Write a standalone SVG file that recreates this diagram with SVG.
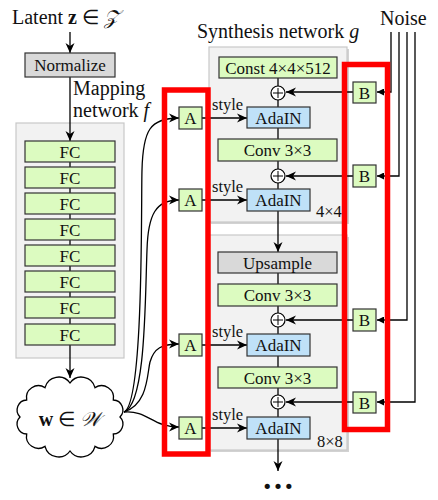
<svg xmlns="http://www.w3.org/2000/svg" width="438" height="500" viewBox="0 0 438 500" font-family="'Liberation Serif', 'Times New Roman', Times, serif">
<defs>
<style>
text, tspan{font-family:'Liberation Serif','Times New Roman',Times,serif}
text{fill:#111}
.lbl{font-size:17px;text-anchor:middle}
.big{font-size:20px}
.sm{font-size:16.5px}
.green{fill:#dcfbc0;stroke:#333;stroke-width:1.2}
.gray{fill:#d9d9d9;stroke:#333;stroke-width:1.2}
.blue{fill:#bfe1f8;stroke:#333;stroke-width:1.2}
.panel{fill:#f2f2f2;stroke:#c8c8c8;stroke-width:1.2}
.shadow{fill:#d2d2d2}
.ln{fill:none;stroke:#000;stroke-width:1.3}
.red{fill:none;stroke:#ff0000;stroke-width:5.5}
</style>
<marker id="ar" viewBox="0 0 10 10" refX="10" refY="5" markerWidth="11" markerHeight="10" markerUnits="userSpaceOnUse" orient="auto">
<path d="M0,0.5 L10,5 L0,9.5 L3,5 z" fill="#000"/>
</marker>
<marker id="tri" viewBox="0 0 10 10" refX="10" refY="5" markerWidth="7" markerHeight="7" markerUnits="userSpaceOnUse" orient="auto">
<path d="M0,0 L10,5 L0,10 z" fill="#000"/>
</marker>
</defs>
<rect width="438" height="500" fill="#fff"/>

<!-- panels -->
<rect class="panel" x="16" y="123" width="108" height="235"/>
<rect class="shadow" x="211" y="49" width="138" height="175"/>
<rect class="panel" x="209" y="47" width="138" height="175"/>
<rect class="shadow" x="211" y="237" width="138" height="215"/>
<rect class="panel" x="209" y="235" width="138" height="215"/>

<!-- titles -->
<text class="big" x="12" y="24">Latent <tspan font-weight="bold">z</tspan> ∈ <tspan font-style="italic">𝒵</tspan></text>
<text class="big" x="73" y="95">Mapping</text>
<text class="big" x="73" y="117">network <tspan font-style="italic">f</tspan></text>
<text class="big" x="197" y="38">Synthesis network <tspan font-style="italic">g</tspan></text>
<text class="big" x="380" y="25">Noise</text>
<text class="sm" x="316" y="217">4×4</text>
<text class="sm" x="317" y="447">8×8</text>
<text x="278" y="489" font-size="32" font-weight="bold" text-anchor="middle">…</text>

<!-- connectors -->
<g id="connectors">
<line class="ln" x1="70" y1="32" x2="70" y2="53" marker-end="url(#ar)"/>
<line class="ln" x1="70" y1="77" x2="70" y2="141" marker-end="url(#ar)"/>
<line class="ln" x1="70" y1="162" x2="70" y2="324"/>
<line class="ln" x1="70" y1="345" x2="70" y2="378" marker-end="url(#ar)"/>
<path class="ln" d="M124,412 C144,404 141,200 142,170 C143,130 150,118 179,118" marker-end="url(#ar)"/>
<path class="ln" d="M124,412 C146,404 145,300 147,250 C148,214 156,200 179,200" marker-end="url(#ar)"/>
<path class="ln" d="M124,412 C148,404 147,375 150,362 C154,348 162,344 179,344" marker-end="url(#ar)"/>
<path class="ln" d="M124,412 C148,410 152,427 179,427" marker-end="url(#ar)"/>
<line class="ln" x1="202" y1="118" x2="247" y2="118" marker-end="url(#ar)"/>
<line class="ln" x1="202" y1="200" x2="247" y2="200" marker-end="url(#ar)"/>
<line class="ln" x1="202" y1="345" x2="247" y2="345" marker-end="url(#ar)"/>
<line class="ln" x1="202" y1="428" x2="247" y2="428" marker-end="url(#ar)"/>
<line class="ln" x1="278" y1="78" x2="278" y2="107"/>
<line class="ln" x1="278" y1="128" x2="278" y2="189"/>
<line class="ln" x1="278" y1="211" x2="278" y2="252" marker-end="url(#ar)"/>
<line class="ln" x1="278" y1="273" x2="278" y2="334"/>
<line class="ln" x1="278" y1="356" x2="278" y2="417"/>
<line class="ln" x1="278" y1="439" x2="278" y2="471" marker-end="url(#ar)"/>
<line class="ln" x1="353" y1="92" x2="286" y2="92" marker-end="url(#ar)"/>
<line class="ln" x1="353" y1="176" x2="286" y2="176" marker-end="url(#ar)"/>
<line class="ln" x1="353" y1="320" x2="286" y2="320" marker-end="url(#ar)"/>
<line class="ln" x1="353" y1="402" x2="286" y2="402" marker-end="url(#ar)"/>
<path class="ln" d="M391,32 V92 H377" marker-end="url(#tri)"/>
<path class="ln" d="M399,32 V176 H377" marker-end="url(#tri)"/>
<path class="ln" d="M407,32 V320 H377" marker-end="url(#tri)"/>
<path class="ln" d="M415,32 V402 H377" marker-end="url(#tri)"/>
</g>

<g id="normalize"><rect class="gray" x="25" y="53" width="90" height="24"/><text class="lbl" x="70" y="71">Normalize</text></g>
<g id="fc1"><rect class="green" x="25" y="141" width="90" height="21"/><text class="lbl" x="70" y="157.5">FC</text></g>
<g id="fc2"><rect class="green" x="25" y="167" width="90" height="21"/><text class="lbl" x="70" y="183.5">FC</text></g>
<g id="fc3"><rect class="green" x="25" y="193" width="90" height="21"/><text class="lbl" x="70" y="209.5">FC</text></g>
<g id="fc4"><rect class="green" x="25" y="219" width="90" height="21"/><text class="lbl" x="70" y="235.5">FC</text></g>
<g id="fc5"><rect class="green" x="25" y="245" width="90" height="21"/><text class="lbl" x="70" y="261.5">FC</text></g>
<g id="fc6"><rect class="green" x="25" y="271" width="90" height="21"/><text class="lbl" x="70" y="287.5">FC</text></g>
<g id="fc7"><rect class="green" x="25" y="297" width="90" height="21"/><text class="lbl" x="70" y="313.5">FC</text></g>
<g id="fc8"><rect class="green" x="25" y="324" width="90" height="21"/><text class="lbl" x="70" y="340.5">FC</text></g>

<g id="w">
<path d="M120,417 A10,10 0 0 1 113.3,434 A12,12 0 0 1 95,446.4 A14,14 0 0 1 70,451 A14,14 0 0 1 45,446.4 A12,12 0 0 1 26.7,434 A10,10 0 0 1 20,417 A10,10 0 0 1 26.7,400 A12,12 0 0 1 45,387.6 A14,14 0 0 1 70,383 A14,14 0 0 1 95,387.6 A12,12 0 0 1 113.3,400 A10,10 0 0 1 120,417 Z" fill="#fff" stroke="#000" stroke-width="1.3"/>
<text x="70" y="426" font-size="20" text-anchor="middle"><tspan font-weight="bold">w</tspan> ∈ <tspan font-style="italic">𝒲</tspan></text>
</g>

<g id="a1"><rect class="green" x="179" y="107" width="23" height="22"/><text class="lbl" x="190.5" y="124">A</text></g>
<g id="a2"><rect class="green" x="179" y="189" width="23" height="22"/><text class="lbl" x="190.5" y="206">A</text></g>
<g id="a3"><rect class="green" x="179" y="334" width="23" height="22"/><text class="lbl" x="190.5" y="351">A</text></g>
<g id="a4"><rect class="green" x="179" y="417" width="23" height="22"/><text class="lbl" x="190.5" y="434">A</text></g>

<g id="style-labels">
<text class="sm" x="212" y="110">style</text>
<text class="sm" x="212" y="192">style</text>
<text class="sm" x="212" y="337">style</text>
<text class="sm" x="212" y="420">style</text>
</g>

<g id="const"><rect class="green" x="219" y="57" width="118" height="21"/><text class="lbl" x="278" y="73.5">Const 4×4×512</text></g>
<g id="plus1"><circle cx="278" cy="93" r="7" fill="#fff" stroke="#000" stroke-width="1.2"/><path d="M273,93 H283 M278,88 V98" stroke="#000" stroke-width="1"/></g>
<g id="adain1"><rect class="blue" x="247" y="107" width="63" height="21"/><text class="lbl" x="278.5" y="123.5">AdaIN</text></g>
<g id="conv1"><rect class="green" x="218" y="139" width="119" height="22"/><text class="lbl" x="277.5" y="156">Conv 3×3</text></g>
<g id="plus2"><circle cx="278" cy="176" r="7" fill="#fff" stroke="#000" stroke-width="1.2"/><path d="M273,176 H283 M278,171 V181" stroke="#000" stroke-width="1"/></g>
<g id="adain2"><rect class="blue" x="247" y="189" width="63" height="22"/><text class="lbl" x="278.5" y="206">AdaIN</text></g>

<g id="upsample"><rect class="gray" x="218" y="252" width="119" height="21"/><text class="lbl" x="277.5" y="268.5">Upsample</text></g>
<g id="conv2"><rect class="green" x="218" y="284" width="119" height="22"/><text class="lbl" x="277.5" y="301">Conv 3×3</text></g>
<g id="plus3"><circle cx="278" cy="320" r="7" fill="#fff" stroke="#000" stroke-width="1.2"/><path d="M273,320 H283 M278,315 V325" stroke="#000" stroke-width="1"/></g>
<g id="adain3"><rect class="blue" x="247" y="334" width="63" height="22"/><text class="lbl" x="278.5" y="351">AdaIN</text></g>
<g id="conv3"><rect class="green" x="218" y="367" width="119" height="21"/><text class="lbl" x="277.5" y="383.5">Conv 3×3</text></g>
<g id="plus4"><circle cx="278" cy="402" r="7" fill="#fff" stroke="#000" stroke-width="1.2"/><path d="M273,402 H283 M278,397 V407" stroke="#000" stroke-width="1"/></g>
<g id="adain4"><rect class="blue" x="247" y="417" width="63" height="22"/><text class="lbl" x="278.5" y="434">AdaIN</text></g>

<g id="b1"><rect class="green" x="353" y="82" width="23" height="21"/><text class="lbl" x="364.5" y="98.5">B</text></g>
<g id="b2"><rect class="green" x="353" y="165" width="23" height="22"/><text class="lbl" x="364.5" y="182">B</text></g>
<g id="b3"><rect class="green" x="353" y="309" width="23" height="22"/><text class="lbl" x="364.5" y="326">B</text></g>
<g id="b4"><rect class="green" x="353" y="392" width="23" height="21"/><text class="lbl" x="364.5" y="408.5">B</text></g>

<g id="highlights">
<rect class="red" x="164.5" y="90" width="43.5" height="364"/>
<rect class="red" x="344.5" y="64.5" width="43" height="365"/>
</g>
</svg>
